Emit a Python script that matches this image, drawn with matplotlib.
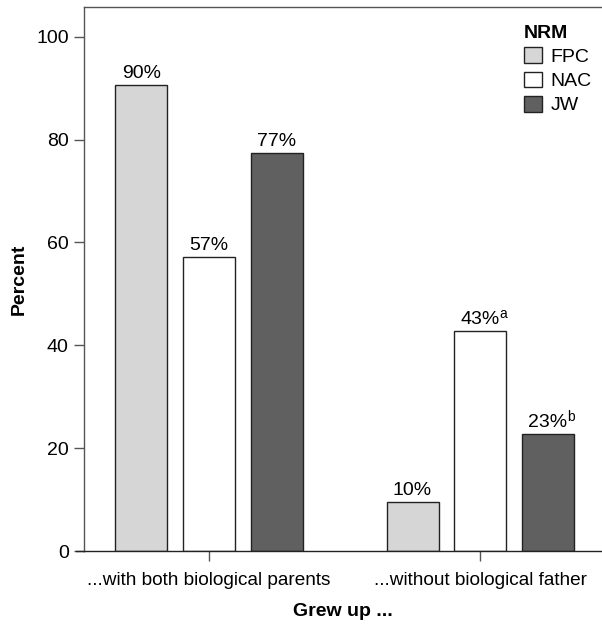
import matplotlib
matplotlib.use("Agg")
import matplotlib.pyplot as plt
from matplotlib.patches import Patch
import numpy as np

groups = ["...with both biological parents", "...without biological father"]
series = ["FPC", "NAC", "JW"]
values = {
    "FPC": [90.6, 9.5],
    "NAC": [57.2, 42.8],
    "JW": [77.5, 22.8],
}
labels = {
    "FPC": ["90%", "10%"],
    "NAC": ["57%", "43%"],
    "JW": ["77%", "23%"],
}
superscripts = {
    "FPC": ["", ""],
    "NAC": ["", "a"],
    "JW": ["", "b"],
}
colors = {"FPC": "#d6d6d6", "NAC": "#ffffff", "JW": "#606060"}
yticks = [0, 20, 40, 60, 80, 100]

plt.rcParams['font.family'] = ['Liberation Sans', 'DejaVu Sans']

FS = 14
fig = plt.figure(figsize=(6.02, 6.25), dpi=100)
ax = fig.add_axes([84/602, 1 - 551/625, 1 - 84/602, (551 - 7)/625])

spine_col = "#555555"
x = np.arange(len(groups))
width = 0.192
offsets = [-0.249, 0.0, 0.251]
for s, off in zip(series, offsets):
    bars = ax.bar(x + off, values[s], width=width, color=colors[s],
                  edgecolor="#222222", linewidth=1.0, label=s, zorder=2)
    for b, lab, sup in zip(bars, labels[s], superscripts[s]):
        t = ax.annotate(lab, xy=(b.get_x() + b.get_width()/2, b.get_height()),
                        xytext=(0, 2.0), textcoords="offset points",
                        ha="center", va="bottom", fontsize=FS)
        if sup:
            ax.annotate(sup, xy=(1, 0), xycoords=t, xytext=(-0.3, 7.5),
                        textcoords="offset points", ha="left", va="baseline",
                        fontsize=10)

ax.set_xlim(-0.461, 1.45)
ax.set_ylim(0, 105.8)
ax.set_yticks(yticks)
ax.set_xticks(x)
ax.set_xticklabels(groups)
ax.tick_params(axis="both", labelsize=FS, length=7, width=1.0, color=spine_col,
               direction="out")
ax.tick_params(axis="x", labelsize=13.7, pad=8)
ax.tick_params(axis="y", pad=4)

for side in ["left", "top", "bottom"]:
    ax.spines[side].set_color(spine_col)
    ax.spines[side].set_linewidth(1.0)
ax.spines["right"].set_visible(False)
ax.spines["bottom"].set_color("#222222")
# extend baseline to the left across the tick
ax.plot([-0.016, 0], [0, 0], transform=ax.transAxes, color="#222222",
        lw=1.0, clip_on=False)

ax.set_ylabel("Percent", fontsize=FS, fontweight="bold", labelpad=6)
ax.set_xlabel("Grew up ...", fontsize=FS, fontweight="bold", labelpad=10.5)

handles = [Patch(facecolor=colors[s], edgecolor="#222222", linewidth=1.0) for s in series]
leg = ax.legend(handles, series, title="NRM", loc="upper left",
                bbox_to_anchor=(524/602, 1 - 25/625), bbox_transform=fig.transFigure,
                frameon=False, fontsize=FS, title_fontsize=FS,
                alignment="left", handlelength=0.93, handleheight=0.88,
                handletextpad=0.45, labelspacing=0.28, borderpad=0,
                borderaxespad=0)
leg.get_title().set_fontweight("bold")

fig.savefig("out.png", dpi=100)
